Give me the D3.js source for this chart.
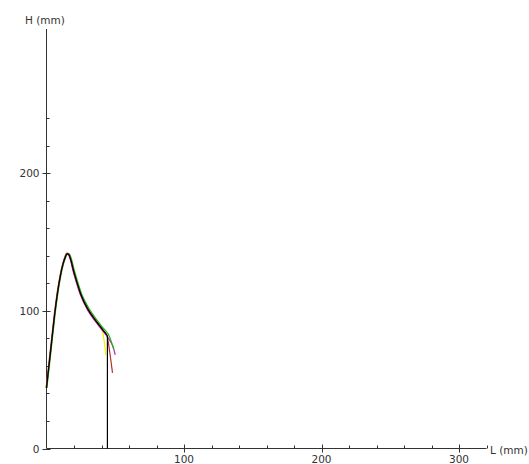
<!DOCTYPE html>
<html><head><meta charset="utf-8">
<script src="https://cdn.jsdelivr.net/npm/d3@7"></script>
<style>
html,body{margin:0;padding:0;background:#fff;}
text{font-family:"DejaVu Sans",Verdana,sans-serif;font-size:10.5px;fill:#333;}
</style></head>
<body><svg id="c" width="529" height="464"></svg>
<script>
// Data (mm)
const xMajorTicks = [100, 200, 300];
const yMajorTicks = [0, 100, 200];
const xMinorTicks = [20, 40, 60, 80, 120, 140, 160, 180, 220, 240, 260, 280, 320];
const yMinorTicks = [20, 40, 60, 80, 120, 140, 160, 180, 220, 240];

const blackL   = [0, 2, 4, 6, 8, 10, 12, 14, 15, 16.5, 18, 20, 25, 30, 35, 40, 44.3, 44.3];
const blackH   = [44, 62, 80, 98, 113, 125, 134, 140, 141.5, 140.5, 136, 128, 112, 101.5, 94, 87.5, 82, 0];
const redL     = [-0.3, 1.7, 3.7, 5.7, 7.7, 9.7, 11.7, 13.8, 14.9, 16.4, 17.9, 19.9, 24.9, 29.9, 34.9, 39.9, 44, 46, 48];
const redH     = [44, 62, 80, 98, 113, 125, 134, 140.5, 142, 141, 136.5, 128, 112, 101.5, 94, 87.5, 82, 70, 55];
const greenL   = [0.3, 2.3, 4.3, 6.3, 8.3, 10.3, 12.3, 14.3, 15.3, 16.9, 18.5, 20.5, 25.5, 30.5, 35.5, 40.5, 45, 47, 49];
const greenH   = [44, 62, 80, 98, 113, 125, 134, 140, 141.5, 141, 136.5, 128.5, 112.5, 102.5, 95, 88.5, 83, 78, 72];
const magentaL = [0, 2, 4, 6, 8, 10, 12, 14, 15, 16.4, 17.8, 19.7, 24.7, 29.7, 34.7, 39.7, 44.5, 48, 50];
const magentaH = [44, 62, 80, 98, 113, 125, 134, 140, 141.5, 140, 135.5, 127.5, 111.5, 101, 93.5, 87, 81, 75, 68];
const yellowL  = [0, 2, 4, 6, 8, 10, 12, 14, 15, 16.5, 18, 20, 25, 30, 35, 40, 42, 43];
const yellowH  = [44, 62, 80, 98, 113, 125, 134, 140, 141.5, 140.5, 136, 128, 112, 101.5, 94, 87.5, 78, 68];

const series = [
  {L: yellowL, H: yellowH, color: "#f0f000"},
  {L: magentaL, H: magentaH, color: "#c020c0"},
  {L: greenL, H: greenH, color: "#20b020"},
  {L: redL, H: redH, color: "#b03030"},
  {L: blackL, H: blackH, color: "#000000"}
];

const svg = d3.select("#c");
const x = d3.scaleLinear().domain([0, 320]).range([46.5, 486.5]);
const y = d3.scaleLinear().domain([0, 305]).range([448.5, 29]);

const axisColor = "#333";
svg.append("line").attr("x1", x(0)).attr("x2", x(320)).attr("y1", y(0)).attr("y2", y(0))
  .attr("stroke", axisColor).attr("stroke-width", 1);
svg.append("line").attr("x1", x(0)).attr("x2", x(0)).attr("y1", y(0)).attr("y2", y(305))
  .attr("stroke", axisColor).attr("stroke-width", 1);

svg.selectAll(".xmin").data(xMinorTicks).enter().append("line")
  .attr("x1", d => Math.round(x(d)) + 0.5).attr("x2", d => Math.round(x(d)) + 0.5)
  .attr("y1", y(0)).attr("y2", y(0) - 3).attr("stroke", axisColor);
svg.selectAll(".xmaj").data(xMajorTicks).enter().append("line")
  .attr("x1", d => Math.round(x(d)) + 0.5).attr("x2", d => Math.round(x(d)) + 0.5)
  .attr("y1", y(0) - 4).attr("y2", y(0) + 4).attr("stroke", axisColor);
svg.selectAll(".xlab").data(xMajorTicks).enter().append("text")
  .attr("x", d => x(d)).attr("y", 463).attr("text-anchor", "middle").text(d => d);

svg.selectAll(".ymin").data(yMinorTicks).enter().append("line")
  .attr("x1", x(0)).attr("x2", x(0) + 3)
  .attr("y1", d => Math.round(y(d)) + 0.5).attr("y2", d => Math.round(y(d)) + 0.5).attr("stroke", axisColor);
svg.selectAll(".ymaj").data(yMajorTicks).enter().append("line")
  .attr("x1", x(0) - 4).attr("x2", x(0) + 4)
  .attr("y1", d => Math.round(y(d)) + 0.5).attr("y2", d => Math.round(y(d)) + 0.5).attr("stroke", axisColor);
svg.selectAll(".ylab").data(yMajorTicks).enter().append("text")
  .attr("x", x(0) - 7).attr("y", d => y(d) + 4).attr("text-anchor", "end").text(d => d);

svg.append("text").attr("x", 25).attr("y", 24).text("H (mm)");
svg.append("text").attr("x", 490).attr("y", 454).text("L (mm)");

const smooth = d3.line().x(d => x(d[0])).y(d => y(d[1])).curve(d3.curveMonotoneY === undefined ? d3.curveCardinal : d3.curveCardinal.tension(0.3));
const straight = d3.line().x(d => x(d[0])).y(d => y(d[1]));
series.forEach(s => {
  const pts = s.L.map((l, i) => [l, s.H[i]]);
  // split off a vertical tail (equal L) to draw straight
  let n = pts.length;
  let tail = [];
  if (n > 1 && pts[n - 1][0] === pts[n - 2][0]) { tail = pts.slice(n - 2); pts.pop(); }
  svg.append("path").attr("d", smooth(pts)).attr("fill", "none")
    .attr("stroke", s.color).attr("stroke-width", 1.2);
  if (tail.length) svg.append("path").attr("d", straight(tail)).attr("fill", "none")
    .attr("stroke", s.color).attr("stroke-width", 1.2);
});
</script></body></html>
